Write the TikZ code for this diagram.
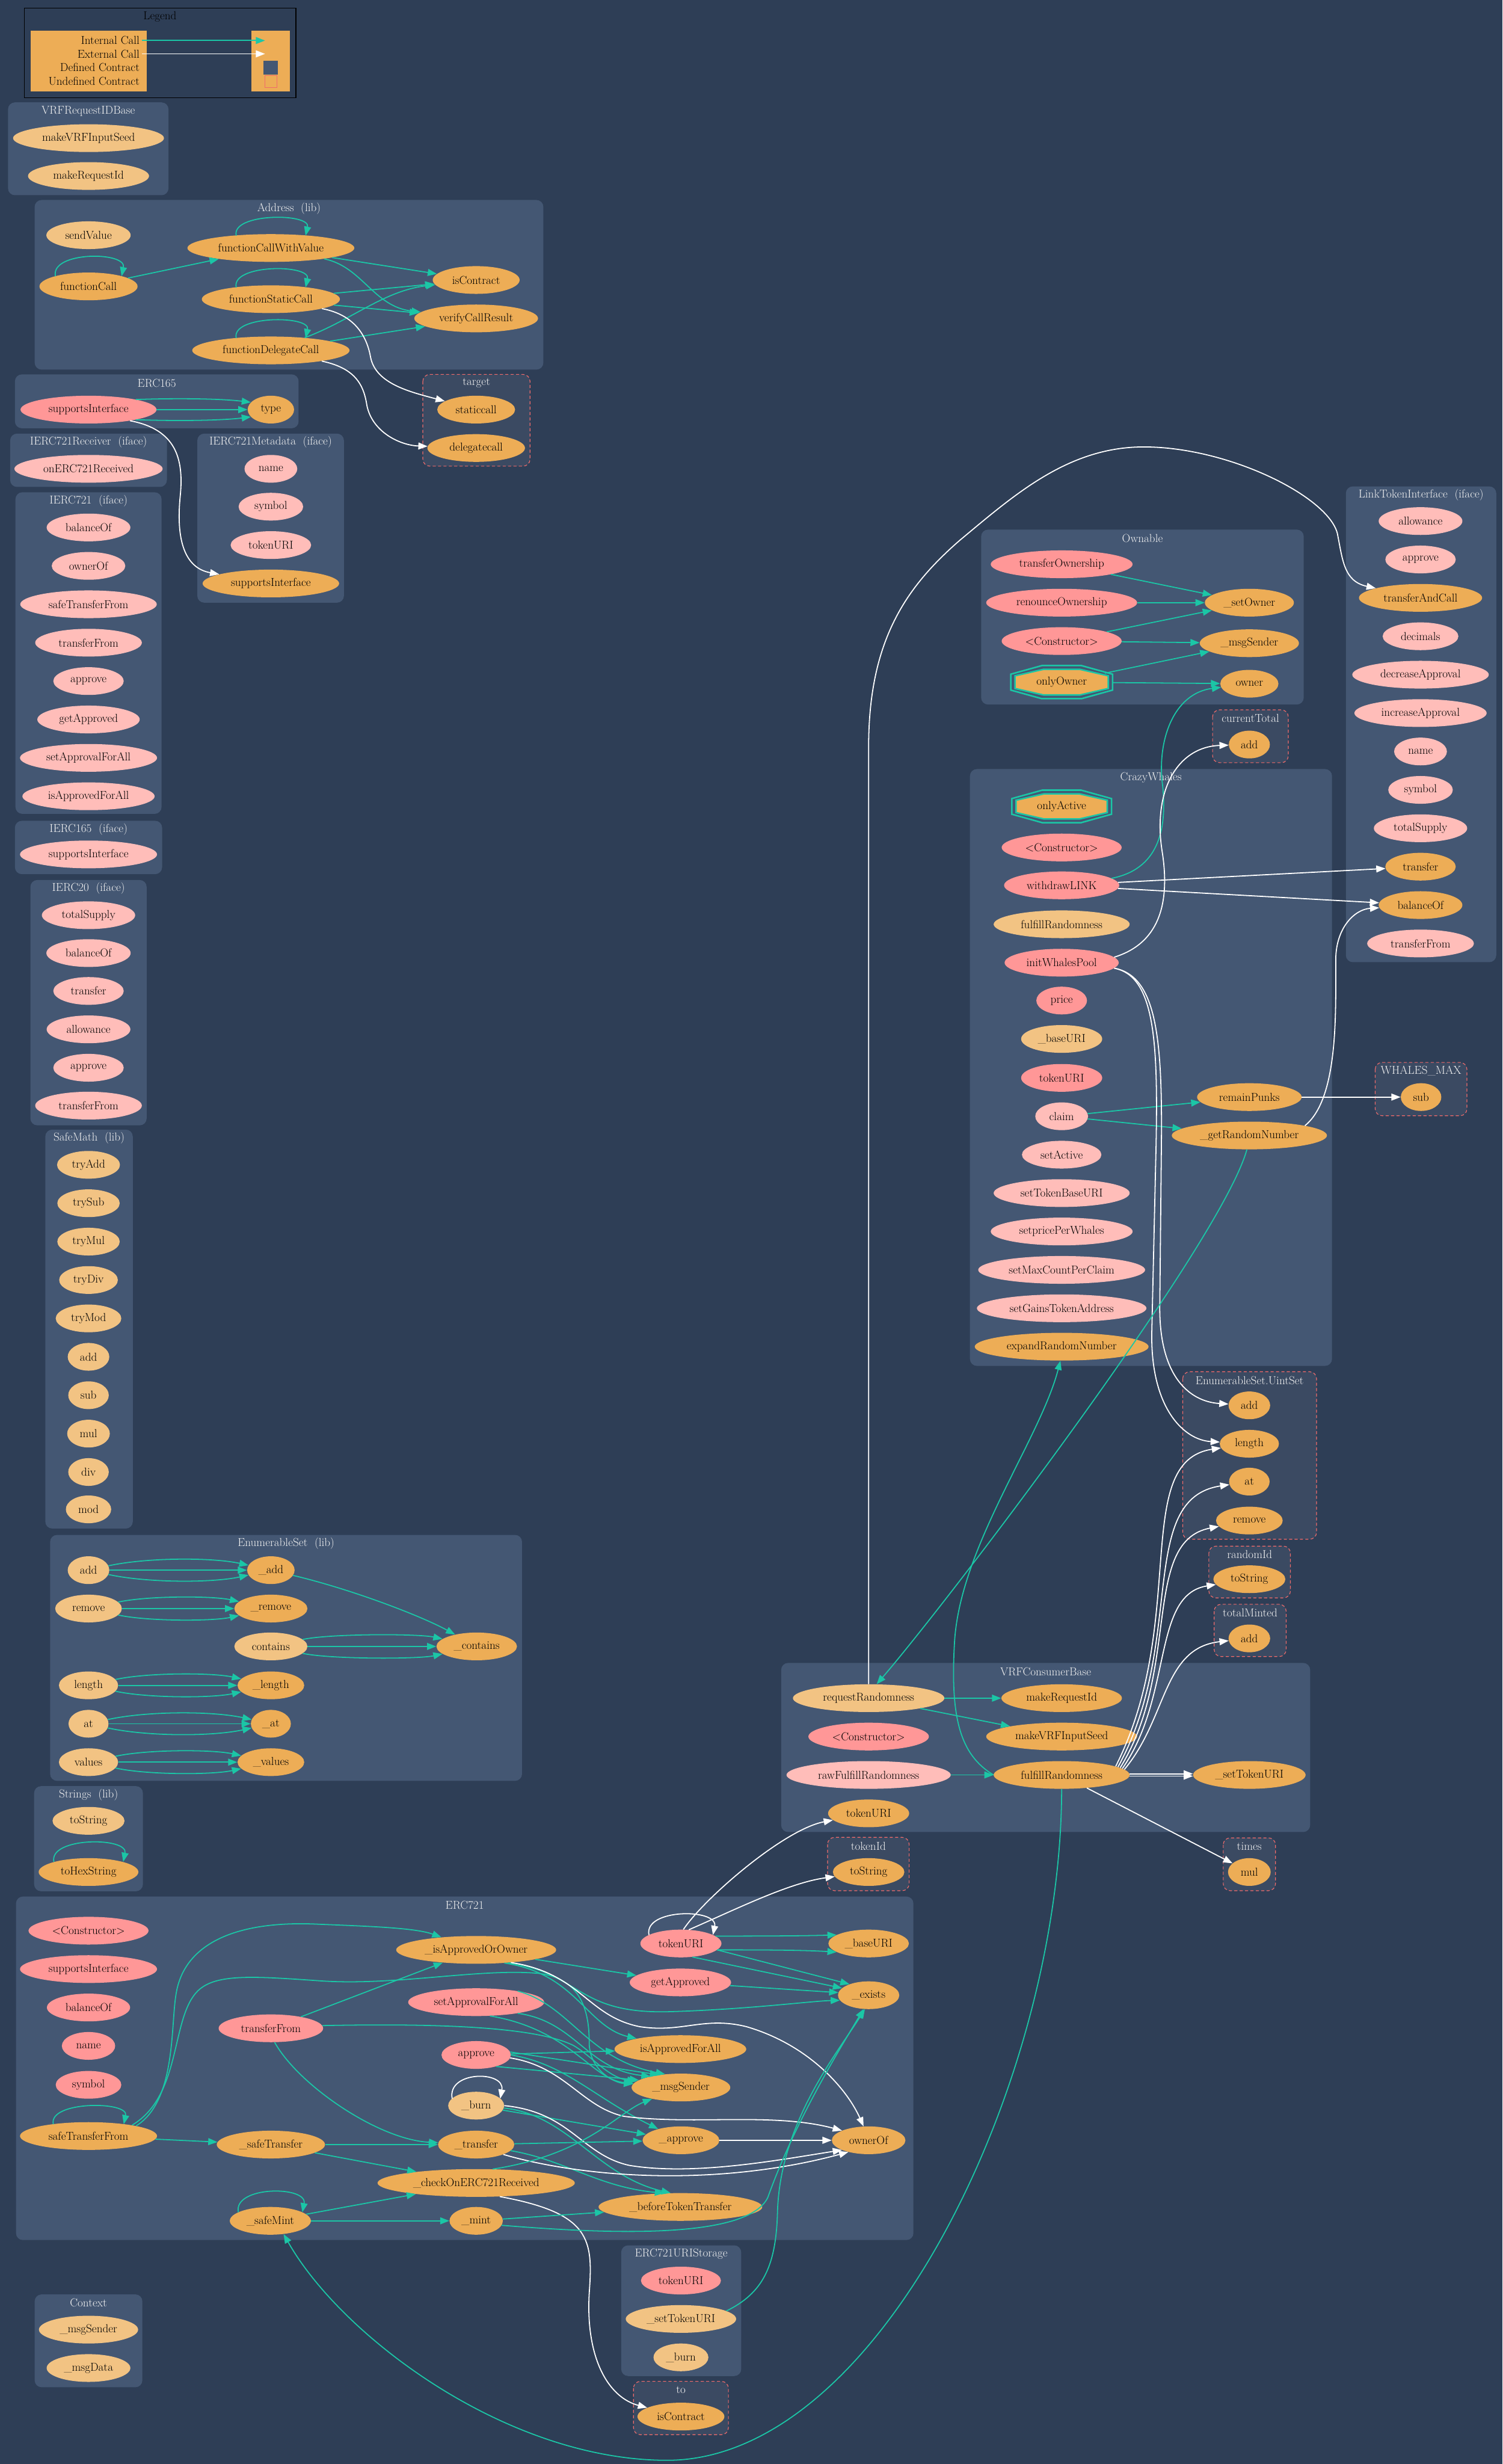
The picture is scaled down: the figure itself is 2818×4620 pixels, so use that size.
\documentclass[tikz,border=0pt]{standalone}
\usepackage{fontspec}
\usetikzlibrary{shapes.geometric,arrows.meta,calc}
\definecolor{cBg}{HTML}{2E3E56}
\definecolor{cClu}{HTML}{445773}
\definecolor{cUnd}{HTML}{3B4A62}
\definecolor{cUndB}{HTML}{EF6B6B}
\definecolor{cOr}{HTML}{EDAD56}
\definecolor{cLo}{HTML}{F2C383}
\definecolor{cSa}{HTML}{FF9797}
\definecolor{cPk}{HTML}{FFBDB9}
\definecolor{cTeal}{HTML}{1BC6A6}
\definecolor{cTitle}{HTML}{F2F2F2}
\tikzset{
  fnode/.style={ellipse,inner sep=0pt,minimum height=36.04pt,font=\fontsize{15}{18}\selectfont,text=black},
  wd/.style={minimum width=#1*0.693pt},
  nOr/.style={fnode,fill=cOr},
  nLo/.style={fnode,fill=cLo},
  nSa/.style={fnode,fill=cSa},
  nPk/.style={fnode,fill=cPk},
  clus/.style={fill=cClu,rounded corners=9pt},
  uclus/.style={fill=cUnd,draw=cUndB,dash pattern=on 4pt off 3pt,line width=0.9pt,rounded corners=9pt},
  ctitle/.style={font=\fontsize{15}{18}\selectfont,text=cTitle,inner sep=0pt},
  lgtext/.style={font=\fontsize{15}{18}\selectfont,text=black,inner sep=0pt},
  icall/.style={draw=cTeal,line width=1.4pt,-{Triangle[length=12pt,width=9pt]}},
  xcall/.style={draw=white,line width=1.4pt,-{Triangle[length=12pt,width=9pt]}},
  octline/.style={draw=cTeal,line width=2pt},
}
\newcommand\fn[6]{\node[#5,wd=#4] (#1) at (#2,#3) {\makebox[0pt]{#6}};}
\newcommand\clu[6]{\path[clus] (#2,#3) rectangle (#4,#5);
  \node[ctitle] (#1) at ({(#2+#4)/2},{#3+16}) {#6};}
\newcommand\uclu[6]{\path[uclus] (#2,#3) rectangle (#4,#5);
  \node[ctitle] (#1) at ({(#2+#4)/2},{#3+16}) {#6};}
\newcommand\octo[6]{%
  \begin{scope}[shift={(#2,#3)}]
  \draw[octline] (-0.5*#4,-0.24*#5) -- (-0.195*#4,-0.5*#5) -- (0.195*#4,-0.5*#5) -- (0.5*#4,-0.24*#5) -- (0.5*#4,0.24*#5) -- (0.195*#4,0.5*#5) -- (-0.195*#4,0.5*#5) -- (-0.5*#4,0.24*#5) -- cycle;
  \filldraw[octline,fill=cOr] (-0.5*#4+8,-0.24*#5+3) -- (-0.195*#4+3,-0.5*#5+7) -- (0.195*#4-3,-0.5*#5+7) -- (0.5*#4-8,-0.24*#5+3) -- (0.5*#4-8,0.24*#5-3) -- (0.195*#4-3,0.5*#5-7) -- (-0.195*#4+3,0.5*#5-7) -- (-0.5*#4+8,0.24*#5-3) -- cycle;
  \end{scope}
  \node[fnode,wd=#4,minimum height=#5*0.693pt] (#1) at (#2,#3) {\makebox[0pt]{#6}};}
\newcommand\selfloop[4]{\draw[#2] ($(#1)+(-#3,-#4)$) .. controls ($(#1)+(-#3-10,-66)$) and ($(#1)+(#3+10,-66)$) .. ($(#1)+(#3,-#4)$);}
\newcommand\tripl[5]{%
  \draw[icall] (#1) .. controls (#3+110,#5-24) and (#4-110,#5-24) .. (#2);
  \draw[icall] (#1) -- (#2);
  \draw[icall] (#1) .. controls (#3+110,#5+24) and (#4-110,#5+24) .. (#2);}
\begin{document}
\begin{tikzpicture}[x=0.693pt,y=-0.693pt]
\useasboundingbox (0,0) rectangle (2818,4620);
\fill[cBg] (0,0) rectangle (2818,4620);

% ---------------- Legend
\draw[black,line width=1.1pt] (46,15) rectangle (555,183);
\node[lgtext] (lgT) at (300,31) {Legend};
\fill[cOr] (57,58) rectangle (275,171);
\fill[cOr] (472,58) rectangle (544,172);
\node[lgtext,anchor=east] (lg1) at (262,76) {Internal Call};
\node[lgtext,anchor=east] (lg2) at (262,101) {External Call};
\node[lgtext,anchor=east] (lg3) at (262,126) {Defined Contract};
\node[lgtext,anchor=east] (lg4) at (262,152) {Undefined Contract};
\fill[cClu] (494,114) rectangle (521,140);
\draw[cUndB,line width=0.8pt] (497,142) rectangle (519,164);
\coordinate (lgA1) at (266,76); \coordinate (lgB1) at (497,76);
\coordinate (lgA2) at (266,101); \coordinate (lgB2) at (497,101);
\draw[icall] (lgA1) -- (lgB1);
\draw[xcall] (lgA2) -- (lgB2);

% ---------------- clusters (left)
\clu{tVRFID}{15}{192}{316}{366}{VRFRequestIDBase}
\fn{vrSeed}{166}{259}{283}{nLo}{makeVRFInputSeed}
\fn{vrReqId}{166}{330}{227}{nLo}{makeRequestId}

\clu{tAddr}{65}{375}{1019}{693}{Address\ \ (lib)}
\fn{adSend}{166}{441}{158}{nLo}{sendValue}
\fn{adCallV}{508}{465}{313}{nOr}{functionCallWithValue}
\fn{adCall}{166}{537}{184}{nOr}{functionCall}
\fn{adStatic}{508}{561}{259}{nOr}{functionStaticCall}
\fn{adDeleg}{508}{657}{295}{nOr}{functionDelegateCall}
\fn{adIsC}{893}{525}{163}{nOr}{isContract}
\fn{adVerify}{893}{597}{232}{nOr}{verifyCallResult}

\clu{tE165}{28}{702}{560}{803}{ERC165}
\fn{eSI165}{166}{768}{255}{nSa}{supportsInterface}
\fn{eType}{508}{768}{87}{nOr}{type}

\uclu{tTarget}{793}{702}{994}{874}{target}
\fn{tgStatic}{893}{768}{146}{nOr}{staticcall}
\fn{tgDeleg}{893}{840}{183}{nOr}{delegatecall}

\clu{tRcv}{19}{813}{313}{913}{IERC721Receiver\ \ (iface)}
\fn{rcvOn}{166}{879}{278}{nPk}{onERC721Received}

\clu{tMeta}{370}{813}{645}{1130}{IERC721Metadata\ \ (iface)}
\fn{mdName}{508}{879}{99}{nPk}{name}
\fn{mdSymbol}{508}{950}{121}{nPk}{symbol}
\fn{mdTokenURI}{508}{1022}{151}{nPk}{tokenURI}
\fn{mdSI}{508}{1094}{256}{nOr}{supportsInterface}

\clu{tI721}{29}{923}{303}{1526}{IERC721\ \ (iface)}
\fn{iBal}{166}{989}{157}{nPk}{balanceOf}
\fn{iOwner}{166}{1061}{138}{nPk}{ownerOf}
\fn{iSTF}{166}{1133}{256}{nPk}{safeTransferFrom}
\fn{iTF}{166}{1205}{200}{nPk}{transferFrom}
\fn{iApprove}{166}{1277}{132}{nPk}{approve}
\fn{iGetA}{166}{1349}{192}{nPk}{getApproved}
\fn{iSetAFA}{166}{1421}{257}{nPk}{setApprovalForAll}
\fn{iIsAFA}{166}{1493}{248}{nPk}{isApprovedForAll}

\clu{tI165}{28}{1539}{304}{1639}{IERC165\ \ (iface)}
\fn{i165SI}{166}{1602}{257}{nPk}{supportsInterface}

\clu{tI20}{57}{1650}{275}{2110}{IERC20\ \ (iface)}
\fn{kTS}{166}{1716}{175}{nPk}{totalSupply}
\fn{kBal}{166}{1787}{158}{nPk}{balanceOf}
\fn{kTr}{166}{1858}{132}{nPk}{transfer}
\fn{kAll}{166}{1930}{157}{nPk}{allowance}
\fn{kApp}{166}{2002}{132}{nPk}{approve}
\fn{kTF}{166}{2073}{200}{nPk}{transferFrom}

\clu{tSM}{85}{2118}{249}{2866}{SafeMath\ \ (lib)}
\fn{smTryAdd}{166}{2184}{118}{nLo}{tryAdd}
\fn{smTrySub}{166}{2256}{117}{nLo}{trySub}
\fn{smTryMul}{166}{2328}{117}{nLo}{tryMul}
\fn{smTryDiv}{166}{2400}{110}{nLo}{tryDiv}
\fn{smTryMod}{166}{2472}{123}{nLo}{tryMod}
\fn{smAdd}{166}{2544}{78}{nLo}{add}
\fn{smSub}{166}{2616}{76}{nLo}{sub}
\fn{smMul}{166}{2688}{80}{nLo}{mul}
\fn{smDiv}{166}{2760}{76}{nLo}{div}
\fn{smMod}{166}{2830}{85}{nLo}{mod}

\clu{tES}{94}{2878}{979}{3339}{EnumerableSet\ \ (lib)}
\fn{esAdd}{166}{2944}{78}{nLo}{add}
\fn{esAddI}{508}{2944}{89}{nOr}{\_add}
\fn{esRemove}{166}{3016}{125}{nLo}{remove}
\fn{esRemoveI}{508}{3016}{137}{nOr}{\_remove}
\fn{esContains}{508}{3087}{137}{nLo}{contains}
\fn{esContainsI}{894}{3087}{151}{nOr}{\_contains}
\fn{esLength}{166}{3160}{111}{nLo}{length}
\fn{esLengthI}{508}{3160}{125}{nOr}{\_length}
\fn{esAt}{166}{3232}{75}{nLo}{at}
\fn{esAtI}{508}{3232}{75}{nOr}{\_at}
\fn{esValues}{166}{3304}{111}{nLo}{values}
\fn{esValuesI}{508}{3304}{125}{nOr}{\_values}

\clu{tStr}{64}{3349}{268}{3546}{Strings\ \ (lib)}
\fn{stToString}{166}{3414}{135}{nLo}{toString}
\fn{stToHex}{166}{3510}{187}{nOr}{toHexString}

\clu{tE721}{30}{3556}{1713}{4200}{ERC721}
\fn{eCtor}{166}{3620}{225}{nSa}{<Constructor>}
\fn{eSI}{166}{3692}{257}{nSa}{supportsInterface}
\fn{eBal}{166}{3764}{156}{nSa}{balanceOf}
\fn{eName}{166}{3836}{100}{nSa}{name}
\fn{eSymbol}{166}{3909}{123}{nSa}{symbol}
\fn{eSTF}{166}{4005}{257}{nOr}{safeTransferFrom}
\fn{eIAOO}{893}{3656}{300}{nOr}{\_isApprovedOrOwner}
\fn{eTF}{508}{3803}{196}{nSa}{transferFrom}
\fn{eSetAFA}{893}{3754}{255}{nSa}{setApprovalForAll}
\fn{eApprove}{893}{3853}{130}{nSa}{approve}
\fn{eBurn}{893}{3948}{105}{nLo}{\_burn}
\fn{eSafeTr}{508}{4021}{203}{nOr}{\_safeTransfer}
\fn{eTransfer}{893}{4021}{143}{nOr}{\_transfer}
\fn{eCheck}{893}{4093}{370}{nOr}{\_checkOnERC721Received}
\fn{eSafeMint}{507}{4164}{152}{nOr}{\_safeMint}
\fn{eMint}{893}{4164}{100}{nOr}{\_mint}
\fn{eTokenURI}{1277}{3644}{152}{nSa}{tokenURI}
\fn{eBaseURI}{1629}{3644}{151}{nOr}{\_baseURI}
\fn{eGetA}{1276}{3717}{190}{nSa}{getApproved}
\fn{eExists}{1629}{3741}{115}{nOr}{\_exists}
\fn{eIsAFA}{1276}{3842}{247}{nOr}{isApprovedForAll}
\fn{eMsgS}{1277}{3914}{185}{nOr}{\_msgSender}
\fn{eApproveI}{1277}{4013}{144}{nOr}{\_approve}
\fn{eOwnerOf}{1629}{4013}{138}{nOr}{ownerOf}
\fn{eBefore}{1276}{4138}{307}{nOr}{\_beforeTokenTransfer}

\clu{tURI}{1165}{4210}{1390}{4455}{ERC721URIStorage}
\fn{uriTokenURI}{1277}{4276}{150}{nSa}{tokenURI}
\fn{uriSetTU}{1277}{4348}{207}{nLo}{\_setTokenURI}
\fn{uriBurn}{1277}{4420}{103}{nLo}{\_burn}

\uclu{tTo}{1188}{4465}{1366}{4565}{to}
\fn{toIsC}{1277}{4531}{163}{nOr}{isContract}

\clu{tCtx}{65}{4302}{267}{4476}{Context}
\fn{cxMsgS}{166}{4368}{186}{nLo}{\_msgSender}
\fn{cxMsgD}{166}{4440}{157}{nLo}{\_msgData}

% ---------------- clusters (right)
\clu{tOwn}{1840}{993}{2445}{1321}{Ownable}
\fn{owTO}{1991}{1058}{266}{nSa}{transferOwnership}
\fn{owRO}{1991}{1130}{283}{nSa}{renounceOwnership}
\fn{owCtor}{1991}{1202}{225}{nSa}{<Constructor>}
\octo{owOnly}{1991}{1279}{191}{62}{onlyOwner}
\fn{owSet}{2343}{1130}{167}{nOr}{\_setOwner}
\fn{owMsgS}{2343}{1206}{186}{nOr}{\_msgSender}
\fn{owOwner}{2343}{1282}{109}{nOr}{owner}

\uclu{tCur}{2274}{1331}{2416}{1430}{currentTotal}
\fn{ctAdd}{2343}{1396}{77}{nOr}{add}

\clu{tLink}{2524}{912}{2806}{1804}{LinkTokenInterface\ \ (iface)}
\fn{lkAll}{2664}{977}{157}{nPk}{allowance}
\fn{lkApp}{2664}{1049}{132}{nPk}{approve}
\fn{lkTAC}{2664}{1121}{231}{nOr}{transferAndCall}
\fn{lkDec}{2664}{1193}{142}{nPk}{decimals}
\fn{lkDecA}{2664}{1265}{256}{nPk}{decreaseApproval}
\fn{lkIncA}{2664}{1337}{248}{nPk}{increaseApproval}
\fn{lkName}{2664}{1409}{99}{nPk}{name}
\fn{lkSym}{2664}{1481}{121}{nPk}{symbol}
\fn{lkTS}{2664}{1553}{175}{nPk}{totalSupply}
\fn{lkTr}{2664}{1625}{132}{nOr}{transfer}
\fn{lkBal}{2664}{1697}{157}{nOr}{balanceOf}
\fn{lkTF}{2664}{1769}{200}{nPk}{transferFrom}

\clu{tCW}{1819}{1442}{2498}{2561}{CrazyWhales}
\octo{cwActive}{1991}{1512}{187}{61}{onlyActive}
\fn{cwCtor}{1991}{1589}{225}{nSa}{<Constructor>}
\fn{cwWithdraw}{1991}{1660}{216}{nSa}{withdrawLINK}
\fn{cwFulfill}{1991}{1733}{255}{nLo}{fulfillRandomness}
\fn{cwInit}{1991}{1805}{214}{nSa}{initWhalesPool}
\fn{cwPrice}{1991}{1876}{95}{nSa}{price}
\fn{cwBaseURI}{1991}{1948}{152}{nLo}{\_baseURI}
\fn{cwTokenURI}{1991}{2021}{152}{nSa}{tokenURI}
\fn{cwClaim}{1991}{2093}{99}{nPk}{claim}
\fn{cwSetActive}{1991}{2165}{149}{nPk}{setActive}
\fn{cwSetTBU}{1991}{2237}{255}{nPk}{setTokenBaseURI}
\fn{cwSetPPW}{1991}{2309}{266}{nPk}{setpricePerWhales}
\fn{cwSetMCPC}{1991}{2381}{313}{nPk}{setMaxCountPerClaim}
\fn{cwSetGTA}{1991}{2453}{318}{nPk}{setGainsTokenAddress}
\fn{cwExpand}{1991}{2525}{326}{nOr}{expandRandomNumber}
\fn{cwRemain}{2343}{2057}{196}{nOr}{remainPunks}
\fn{cwGetRand}{2343}{2129}{291}{nOr}{\_getRandomNumber}

\uclu{tWM}{2579}{1992}{2751}{2092}{WHALES\_MAX}
\fn{wmSub}{2665}{2057}{76}{nOr}{sub}

\uclu{tUS}{2218}{2572}{2469}{2886}{EnumerableSet.UintSet}
\fn{uiAdd}{2343}{2635}{78}{nOr}{add}
\fn{uiLength}{2343}{2707}{111}{nOr}{length}
\fn{uiAt}{2343}{2778}{76}{nOr}{at}
\fn{uiRemove}{2343}{2851}{125}{nOr}{remove}

\uclu{tRI}{2267}{2899}{2420}{2996}{randomId}
\fn{riToString}{2343}{2961}{135}{nOr}{toString}

\uclu{tTM}{2277}{3008}{2412}{3106}{totalMinted}
\fn{tmAdd}{2343}{3072}{78}{nOr}{add}

\clu{tVRF}{1465}{3118}{2457}{3435}{VRFConsumerBase}
\fn{vcReq}{1629}{3184}{284}{nLo}{requestRandomness}
\fn{vcMakeReq}{1991}{3184}{226}{nOr}{makeRequestId}
\fn{vcCtor}{1629}{3256}{226}{nSa}{<Constructor>}
\fn{vcMakeSeed}{1991}{3256}{283}{nOr}{makeVRFInputSeed}
\fn{vcRaw}{1629}{3328}{308}{nPk}{rawFulfillRandomness}
\fn{vcFulfill}{1991}{3328}{255}{nOr}{fulfillRandomness}
\fn{vcSetTU}{2343}{3328}{211}{nOr}{\_setTokenURI}
\fn{vcTokenURI}{1629}{3400}{152}{nOr}{tokenURI}

\uclu{tTI}{1552}{3445}{1705}{3545}{tokenId}
\fn{tiToString}{1629}{3510}{134}{nOr}{toString}

\uclu{tTimes}{2294}{3446}{2392}{3545}{times}
\fn{xMul}{2343}{3510}{80}{nOr}{mul}

% ================= edges
% Address
\draw[icall] (adCall) -- (adCallV);
\draw[icall] (adCallV) -- (adIsC);
\draw[icall] (adCallV) .. controls (680,500) and (700,575) .. (adVerify);
\draw[icall] (adStatic) -- (adIsC);
\draw[icall] (adStatic) -- (adVerify);
\draw[icall] (adDeleg) .. controls (660,600) and (720,545) .. (adIsC);
\draw[icall] (adDeleg) -- (adVerify);
\selfloop{adCall}{icall}{62}{19}
\selfloop{adCallV}{icall}{65}{23}
\selfloop{adStatic}{icall}{65}{22}
\selfloop{adDeleg}{icall}{65}{23}
\draw[xcall] (adStatic) .. controls (665,590) and (688,630) .. (695,670) .. controls (705,720) and (770,735) .. (tgStatic);
\draw[xcall] (adDeleg) .. controls (665,690) and (682,720) .. (688,760) .. controls (698,810) and (750,835) .. (tgDeleg);

% ERC165
\draw[icall] (eSI165.12) .. controls (340,746) and (420,748) .. (eType.160);
\draw[icall] (eSI165) -- (eType);
\draw[icall] (eSI165.348) .. controls (340,790) and (420,788) .. (eType.200);
\draw[xcall] (eSI165.345) .. controls (330,805) and (345,860) .. (338,930) .. controls (330,1010) and (345,1065) .. (mdSI);

% EnumerableSet
\tripl{esAdd}{esAddI}{166}{508}{2944}
\tripl{esRemove}{esRemoveI}{166}{508}{3016}
\tripl{esContains}{esContainsI}{508}{894}{3087}
\tripl{esLength}{esLengthI}{166}{508}{3160}
\tripl{esAt}{esAtI}{166}{508}{3232}
\tripl{esValues}{esValuesI}{166}{508}{3304}
\draw[icall] (esAddI) .. controls (660,2980) and (790,3030) .. (esContainsI);

% Strings
\selfloop{stToHex}{icall}{65}{19}

% ERC721
\selfloop{eSTF}{icall}{66}{22}
\selfloop{eSafeMint}{icall}{60}{16}
\selfloop{eBurn}{xcall}{45}{13}
\selfloop{eTokenURI}{xcall}{60}{16}
\draw[icall] (eSTF.12) .. controls (330,3940) and (320,3800) .. (330,3740) .. controls (345,3640) and (450,3600) .. (600,3608) .. controls (700,3612) and (780,3615) .. (eIAOO);
\draw[icall] (eSTF.14) .. controls (340,3930) and (320,3790) .. (368,3736) .. controls (400,3700) and (470,3705) .. (600,3714) .. controls (740,3724) and (900,3690) .. (1010,3700) .. controls (1090,3710) and (1105,3770) .. (1105,3830) .. controls (1105,3880) and (1150,3905) .. (eMsgS);
\draw[icall] (eSTF) -- (eSafeTr);
\draw[icall] (eTF) -- (eIAOO);
\draw[icall] (eTF.3) .. controls (800,3794) and (1000,3798) .. (1075,3835) .. controls (1110,3855) and (1140,3895) .. (eMsgS);
\draw[icall] (eTF.285) .. controls (560,3910) and (710,4012) .. (eTransfer);
\draw[icall] (eIAOO) -- (eGetA);
\draw[icall] (eIAOO.335) .. controls (1080,3700) and (1100,3800) .. (eIsAFA);
\draw[icall] (eIAOO.338) .. controls (1090,3700) and (1080,3775) .. (1250,3772) .. controls (1400,3768) and (1520,3752) .. (eExists.190);
\draw[xcall] (eIAOO.340) .. controls (1090,3700) and (1100,3780) .. (1200,3800) .. controls (1280,3812) and (1320,3780) .. (1400,3800) .. controls (1520,3835) and (1590,3920) .. (eOwnerOf.110);
\draw[icall] (eTokenURI.12) .. controls (1420,3630) and (1500,3630) .. (eBaseURI.165);
\draw[icall] (eTokenURI.350) .. controls (1420,3656) and (1500,3656) .. (eBaseURI.195);
\draw[icall] (eTokenURI.350) -- (eExists.150);
\draw[icall] (eTokenURI.310) -- (eExists.165);
\draw[icall] (eGetA) -- (eExists.175);
\draw[icall] (eSetAFA.15) .. controls (1070,3760) and (1100,3860) .. (eMsgS.140);
\draw[icall] (eSetAFA.345) .. controls (1080,3790) and (1100,3880) .. (eMsgS.160);
\draw[icall] (eSetAFA.315) .. controls (1070,3805) and (1110,3900) .. (eMsgS.175);
\draw[icall] (eApprove) -- (eIsAFA);
\draw[icall] (eApprove.5) -- (eMsgS.150);
\draw[icall] (eApprove.330) -- (eMsgS.170);
\draw[icall] (eApprove.0) .. controls (1060,3870) and (1110,3930) .. (eApproveI);
\draw[xcall] (eApprove.355) .. controls (1060,3875) and (1090,3950) .. (1170,3968) .. controls (1300,3985) and (1450,3960) .. (eOwnerOf.160);
\draw[icall] (eBurn) -- (eApproveI);
\draw[icall] (eBurn.355) .. controls (1065,3965) and (1120,4080) .. (eBefore.125);
\draw[xcall] (eBurn.0) .. controls (1070,3960) and (1090,4040) .. (1180,4060) .. controls (1300,4080) and (1460,4050) .. (eOwnerOf.200);
\draw[icall] (eTransfer) -- (eApproveI);
\draw[icall] (eTransfer.350) .. controls (1060,4050) and (1120,4100) .. (eBefore.140);
\draw[xcall] (eTransfer.340) .. controls (1100,4085) and (1350,4100) .. (eOwnerOf.210);
\draw[xcall] (eApproveI) -- (eOwnerOf);
\draw[icall] (eSafeTr) -- (eTransfer);
\draw[icall] (eSafeTr) -- (eCheck);
\draw[icall] (eCheck.40) .. controls (1100,4040) and (1160,3960) .. (eMsgS);
\draw[xcall] (eCheck.330) .. controls (1110,4150) and (1112,4200) .. (1105,4300) .. controls (1098,4420) and (1140,4495) .. (toIsC);
\draw[icall] (eSafeMint) -- (eCheck);
\draw[icall] (eSafeMint) -- (eMint);
\draw[icall] (eMint) -- (eBefore);
\draw[icall] (eMint.350) .. controls (1100,4185) and (1400,4205) .. (1440,4120) .. controls (1490,3980) and (1570,3850) .. (eExists.250);
\draw[icall] (uriSetTU.10) .. controls (1430,4300) and (1455,4250) .. (1458,4150) .. controls (1462,3980) and (1570,3850) .. (eExists.255);
\draw[xcall] (eTokenURI.80) .. controls (1320,3560) and (1470,3430) .. (vcTokenURI);
\draw[xcall] (eTokenURI.60) .. controls (1380,3580) and (1480,3530) .. (tiToString);

% Ownable
\draw[icall] (owTO) -- (owSet);
\draw[icall] (owRO) -- (owSet);
\draw[icall] (owCtor) -- (owSet);
\draw[icall] (owCtor) -- (owMsgS);
\draw[icall] (owOnly) -- (owMsgS);
\draw[icall] (owOnly) -- (owOwner);

% CrazyWhales
\draw[icall] (cwClaim) -- (cwRemain);
\draw[icall] (cwClaim) -- (cwGetRand);
\draw[xcall] (cwRemain) -- (wmSub);
\draw[xcall] (cwGetRand.10) .. controls (2510,2060) and (2505,1900) .. (2505,1800) .. controls (2505,1740) and (2540,1705) .. (lkBal);
\draw[xcall] (cwWithdraw) -- (lkTr);
\draw[xcall] (cwWithdraw) -- (lkBal);
\draw[icall] (cwWithdraw.8) .. controls (2170,1630) and (2190,1560) .. (2180,1470) .. controls (2170,1390) and (2200,1300) .. (owOwner);
\draw[xcall] (cwInit.6) .. controls (2170,1770) and (2195,1700) .. (2180,1600) .. controls (2160,1480) and (2210,1400) .. (ctAdd);
\draw[xcall] (cwInit.354) .. controls (2170,1830) and (2180,1950) .. (2178,2150) -- (2175,2450) .. controls (2174,2580) and (2230,2628) .. (uiAdd);
\draw[xcall] (cwInit.354) .. controls (2165,1830) and (2172,1950) .. (2168,2150) -- (2160,2500) .. controls (2158,2640) and (2220,2700) .. (uiLength);
\draw[icall] (cwGetRand.260) .. controls (2290,2330) and (1780,3000) .. (vcReq.60);

% VRFConsumerBase
\draw[xcall] (vcReq.90) -- (1629,1400) .. controls (1629,1200) and (1700,1100) .. (1800,1013) .. controls (1900,930) and (2000,840) .. (2140,838) .. controls (2300,836) and (2490,930) .. (2508,1000) .. controls (2518,1050) and (2520,1090) .. (lkTAC);
\draw[icall] (vcReq) -- (vcMakeReq);
\draw[icall] (vcReq) -- (vcMakeSeed);
\draw[icall] (vcRaw) -- (vcFulfill);
\draw[xcall] ([yshift=1.5pt]vcFulfill.east) -- ([yshift=1.5pt]vcSetTU.west);
\draw[xcall] ([yshift=-1.5pt]vcFulfill.east) -- ([yshift=-1.5pt]vcSetTU.west);
\draw[xcall] (vcFulfill) -- (xMul);
\draw[xcall] (vcFulfill.5) .. controls (2190,3220) and (2180,3090) .. (tmAdd);
\draw[xcall] (vcFulfill.6) .. controls (2200,3180) and (2160,2990) .. (riToString);
\draw[xcall] (vcFulfill.7) .. controls (2215,3130) and (2140,2890) .. (uiRemove);
\draw[xcall] (vcFulfill.8) .. controls (2225,3080) and (2130,2810) .. (uiAt);
\draw[xcall] (vcFulfill.9) .. controls (2230,3040) and (2120,2740) .. (uiLength);
\draw[icall] (vcFulfill.180) .. controls (1800,3290) and (1782,3220) .. (1790,3080) .. controls (1800,2900) and (1950,2700) .. (cwExpand.265);
\draw[icall] (vcFulfill.270) .. controls (1990,3900) and (1650,4613) .. (1251,4613) .. controls (950,4613) and (640,4380) .. (eSafeMint.315);
\end{tikzpicture}
\end{document}
